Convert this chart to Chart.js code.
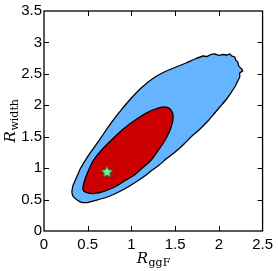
<!DOCTYPE html>
<html>
<head>
<meta charset="utf-8">
<script src="https://cdn.jsdelivr.net/npm/chart.js@4/dist/chart.umd.min.js"></script>
<style>
  html, body { margin: 0; padding: 0; background: #fff; }
</style>
</head>
<body>
<canvas id="c" width="278" height="271"></canvas>
<script>
// 95% region (outer, blue), clockwise from the lower-left tip
var outerX = [0.318,0.330,0.364,0.420,0.489,0.568,0.648,0.727,0.784,0.886,0.989,1.114,1.250,1.398,1.511,1.625,1.727,1.818,1.864,1.909,1.955,2.000,2.045,2.091,2.125,2.148,2.182,2.193,2.216,2.227,2.261,2.273,2.239,2.239,2.216,2.182,2.136,2.080,2.011,1.943,1.875,1.773,1.693,1.602,1.500,1.409,1.318,1.239,1.136,1.034,0.920,0.807,0.693,0.580,0.500,0.420,0.364,0.330];
var outerY = [0.620,0.716,0.827,1.002,1.161,1.320,1.479,1.639,1.750,1.930,2.100,2.280,2.430,2.545,2.609,2.673,2.736,2.784,2.776,2.808,2.816,2.792,2.808,2.800,2.816,2.784,2.768,2.720,2.689,2.625,2.577,2.545,2.514,2.450,2.386,2.291,2.195,2.084,1.973,1.861,1.750,1.607,1.511,1.384,1.257,1.161,1.050,0.970,0.859,0.764,0.668,0.589,0.525,0.485,0.453,0.461,0.509,0.557];

// 68% region (inner, red)
var innerX = [0.443,0.466,0.511,0.568,0.670,0.795,0.920,1.045,1.170,1.273,1.375,1.443,1.477,1.455,1.386,1.318,1.227,1.125,1.034,0.920,0.807,0.693,0.580,0.500,0.455];
var innerY = [0.684,0.811,0.970,1.130,1.305,1.480,1.639,1.766,1.877,1.941,1.973,1.941,1.830,1.655,1.448,1.305,1.130,1.002,0.891,0.795,0.700,0.636,0.597,0.605,0.636];

// best fit point
var bestX = [0.72];
var bestY = [0.945];

var xTicks = [0, 0.5, 1, 1.5, 2, 2.5];
var yTicks = [0, 0.5, 1, 1.5, 2, 2.5, 3, 3.5];

function toPoints(xs, ys, closed) {
  var pts = xs.map(function (x, i) { return {x: x, y: ys[i]}; });
  if (closed) pts.push({x: xs[0], y: ys[0]});
  return pts;
}

function makeStar(r) {
  var cv = document.createElement('canvas');
  var s = Math.ceil(r * 2 + 4);
  cv.width = s; cv.height = s;
  var g = cv.getContext('2d');
  g.beginPath();
  for (var i = 0; i < 10; i++) {
    var ang = -Math.PI / 2 + i * Math.PI / 5;
    var rad = (i % 2) ? r * 0.45 : r;
    var px = s / 2 + rad * Math.cos(ang), py = s / 2 + 0.5 + rad * Math.sin(ang);
    if (i === 0) g.moveTo(px, py); else g.lineTo(px, py);
  }
  g.closePath();
  g.fillStyle = '#6df59b';
  g.fill();
  g.lineWidth = 0.8;
  g.strokeStyle = '#24502f';
  g.stroke();
  return cv;
}

function drawSubLabel(ctx, main, sub, x, y) {
  var mainFont = 'italic 15px "DejaVu Serif", serif';
  var subFont = '11px "DejaVu Serif", serif';
  ctx.font = mainFont;
  var w1 = ctx.measureText(main).width;
  ctx.font = subFont;
  var w2 = ctx.measureText(sub).width;
  var x0 = x - (w1 + w2) / 2;
  ctx.fillStyle = '#000';
  ctx.textBaseline = 'alphabetic';
  ctx.textAlign = 'left';
  ctx.font = mainFont;
  ctx.fillText(main, x0, y);
  ctx.font = subFont;
  ctx.fillText(sub, x0 + w1 + 0.5, y + 3);
}

var framePlugin = {
  id: 'frame',
  afterDraw: function (chart) {
    var ctx = chart.ctx, a = chart.chartArea;
    var xs = chart.scales.x, ys = chart.scales.y;
    ctx.save();
    ctx.strokeStyle = '#000';
    ctx.lineWidth = 1;
    ctx.beginPath();
    xTicks.forEach(function (v) {
      if (v <= xs.min || v >= xs.max) return;
      var p = Math.round(xs.getPixelForValue(v)) + 0.5;
      ctx.moveTo(p, a.bottom); ctx.lineTo(p, a.bottom - 5);
      ctx.moveTo(p, a.top); ctx.lineTo(p, a.top + 5);
    });
    yTicks.forEach(function (v) {
      if (v <= ys.min || v >= ys.max) return;
      var p = Math.round(ys.getPixelForValue(v)) + 0.5;
      ctx.moveTo(a.left, p); ctx.lineTo(a.left + 5, p);
      ctx.moveTo(a.right, p); ctx.lineTo(a.right - 5, p);
    });
    ctx.stroke();
    ctx.lineWidth = 1.3;
    ctx.strokeRect(a.left, a.top, a.right - a.left, a.bottom - a.top);

    drawSubLabel(ctx, 'R', 'ggF', (a.left + a.right) / 2, 263);
    ctx.translate(15, (a.top + a.bottom) / 2);
    ctx.rotate(-Math.PI / 2);
    drawSubLabel(ctx, 'R', 'width', 0, 0);
    ctx.restore();
  }
};

var tickFont = {family: '"Liberation Sans", Arial, sans-serif', size: 15};

new Chart(document.getElementById('c'), {
  type: 'scatter',
  data: {
    datasets: [
      {
        label: 'best fit',
        data: toPoints(bestX, bestY, false),
        pointStyle: makeStar(6.5),
        pointRadius: 7,
        showLine: false,
        order: 0
      },
      {
        label: '68%',
        data: toPoints(innerX, innerY, true),
        showLine: true,
        fill: 'shape',
        backgroundColor: '#cc0000',
        borderColor: '#000',
        borderWidth: 1.3,
        pointRadius: 0,
        tension: 0.3,
        order: 1
      },
      {
        label: '95%',
        data: toPoints(outerX, outerY, true),
        showLine: true,
        fill: 'shape',
        backgroundColor: '#66b3ff',
        borderColor: '#000',
        borderWidth: 1.3,
        pointRadius: 0,
        tension: 0.15,
        order: 2
      }
    ]
  },
  options: {
    responsive: false,
    animation: false,
    layout: {padding: {top: 11, right: 14, left: 0, bottom: 0}},
    plugins: {legend: {display: false}, tooltip: {enabled: false}},
    scales: {
      x: {
        type: 'linear', min: 0, max: 2.5,
        afterBuildTicks: function (s) { s.ticks = xTicks.map(function (v) { return {value: v}; }); },
        afterFit: function (s) { s.height = 40; },
        grid: {display: false, drawTicks: false},
        border: {display: false},
        ticks: {font: tickFont, color: '#000', padding: 5, maxRotation: 0,
          callback: function (v) { return String(v); }}
      },
      y: {
        type: 'linear', min: 0, max: 3.5,
        afterBuildTicks: function (s) { s.ticks = yTicks.map(function (v) { return {value: v}; }); },
        afterFit: function (s) { s.width = 44; },
        grid: {display: false, drawTicks: false},
        border: {display: false},
        ticks: {font: tickFont, color: '#000', padding: 2,
          callback: function (v) { return String(v); }}
      }
    }
  },
  plugins: [framePlugin]
});
</script>
</body>
</html>
